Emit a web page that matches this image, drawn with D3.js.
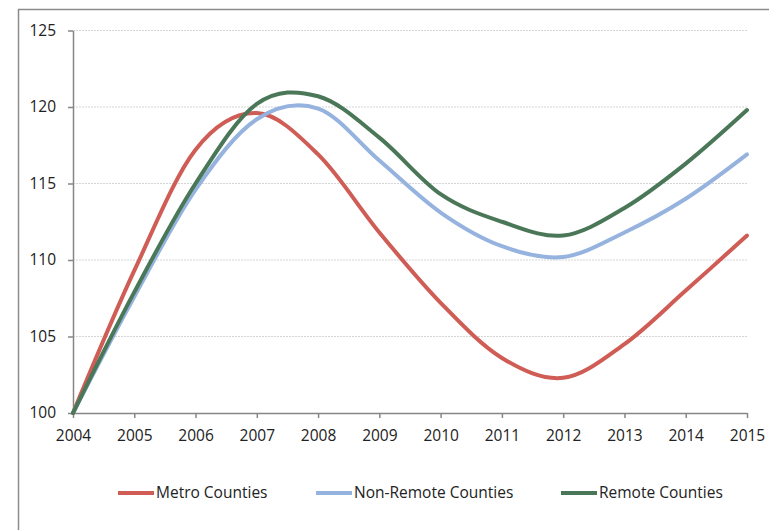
<!DOCTYPE html>
<html>
<head>
<meta charset="utf-8">
<script src="https://cdn.jsdelivr.net/npm/d3@7"></script>
<style>
  body { margin: 0; background: #fff; }
  text { font-family: "Open Sans", "Liberation Sans", sans-serif; fill: #222; }
</style>
</head>
<body>
<div id="chart"></div>
<script>
// data
var years = [2004, 2005, 2006, 2007, 2008, 2009, 2010, 2011, 2012, 2013, 2014, 2015];
var metro = [100, 109.3, 117.2, 119.6, 116.9, 111.8, 107.2, 103.6, 102.3, 104.5, 108.0, 111.6];
var nonRemote = [100, 107.6, 114.6, 119.2, 119.9, 116.5, 113.1, 110.9, 110.2, 111.8, 114.0, 116.9];
var remote = [100, 107.9, 115.0, 120.2, 120.7, 118.0, 114.3, 112.5, 111.6, 113.4, 116.3, 119.8];
var yTicks = [100, 105, 110, 115, 120, 125];
var seriesNames = ["Metro Counties", "Non-Remote Counties", "Remote Counties"];
var seriesColors = ["#CF5C55", "#95B3DE", "#4A7757"];

var width = 769, height = 530;
var margin = { top: 30.5, right: 22, bottom: 117, left: 73 };

var svg = d3.select("#chart").append("svg")
  .attr("width", width)
  .attr("height", height);

// outer frame
svg.append("rect")
  .attr("x", 18.5).attr("y", 9.5)
  .attr("width", 800).attr("height", 600)
  .attr("fill", "none")
  .attr("stroke", "#8c8c8c")
  .attr("stroke-width", 1.5);

var x = d3.scaleLinear().domain([2004, 2015]).range([margin.left, width - margin.right]);
var y = d3.scaleLinear().domain([100, 125]).range([height - margin.bottom, margin.top]);

// gridlines
svg.append("g").selectAll("line")
  .data(yTicks.slice(1))
  .enter().append("line")
  .attr("x1", x(2004)).attr("x2", x(2015))
  .attr("y1", function (d) { return y(d); })
  .attr("y2", function (d) { return y(d); })
  .attr("stroke", "#d4d4d4")
  .attr("stroke-dasharray", "2,1");

// y axis
var yAxis = svg.append("g")
  .attr("transform", "translate(" + x(2004) + ",0)")
  .call(d3.axisLeft(y).tickValues(yTicks).tickSize(5).tickPadding(12).tickSizeOuter(0));
// x axis
var xAxis = svg.append("g")
  .attr("transform", "translate(0," + y(100) + ")")
  .call(d3.axisBottom(x).tickValues(years).tickFormat(d3.format("d")).tickSize(5).tickPadding(12).tickSizeOuter(0));

[yAxis, xAxis].forEach(function (a) {
  a.select(".domain").attr("stroke", "#868686").attr("stroke-width", 1.5);
  a.selectAll(".tick line").attr("stroke", "#868686").attr("stroke-width", 1.5);
  a.selectAll("text").style("font-family", "'Open Sans', sans-serif").style("font-size", "15.5px").attr("fill", "#222");
});

var line = d3.line()
  .x(function (d, i) { return x(years[i]); })
  .y(function (d) { return y(d); })
  .curve(d3.curveCardinal.tension(0));

[metro, nonRemote, remote].forEach(function (s, i) {
  svg.append("path")
    .datum(s)
    .attr("d", line)
    .attr("fill", "none")
    .attr("stroke", seriesColors[i])
    .attr("stroke-width", 4)
    .attr("stroke-linecap", "round");
});

// legend
var legendX = [118, 316, 561];
var legend = svg.append("g").selectAll("g")
  .data(seriesNames)
  .enter().append("g")
  .attr("transform", function (d, i) { return "translate(" + legendX[i] + ",493)"; });
legend.append("line")
  .attr("x1", 0).attr("x2", 36)
  .attr("stroke", function (d, i) { return seriesColors[i]; })
  .attr("stroke-width", 4);
legend.append("text")
  .attr("x", 38)
  .attr("dy", "0.35em")
  .style("font-size", "15.5px")
  .text(function (d) { return d; });
</script>
</body>
</html>
